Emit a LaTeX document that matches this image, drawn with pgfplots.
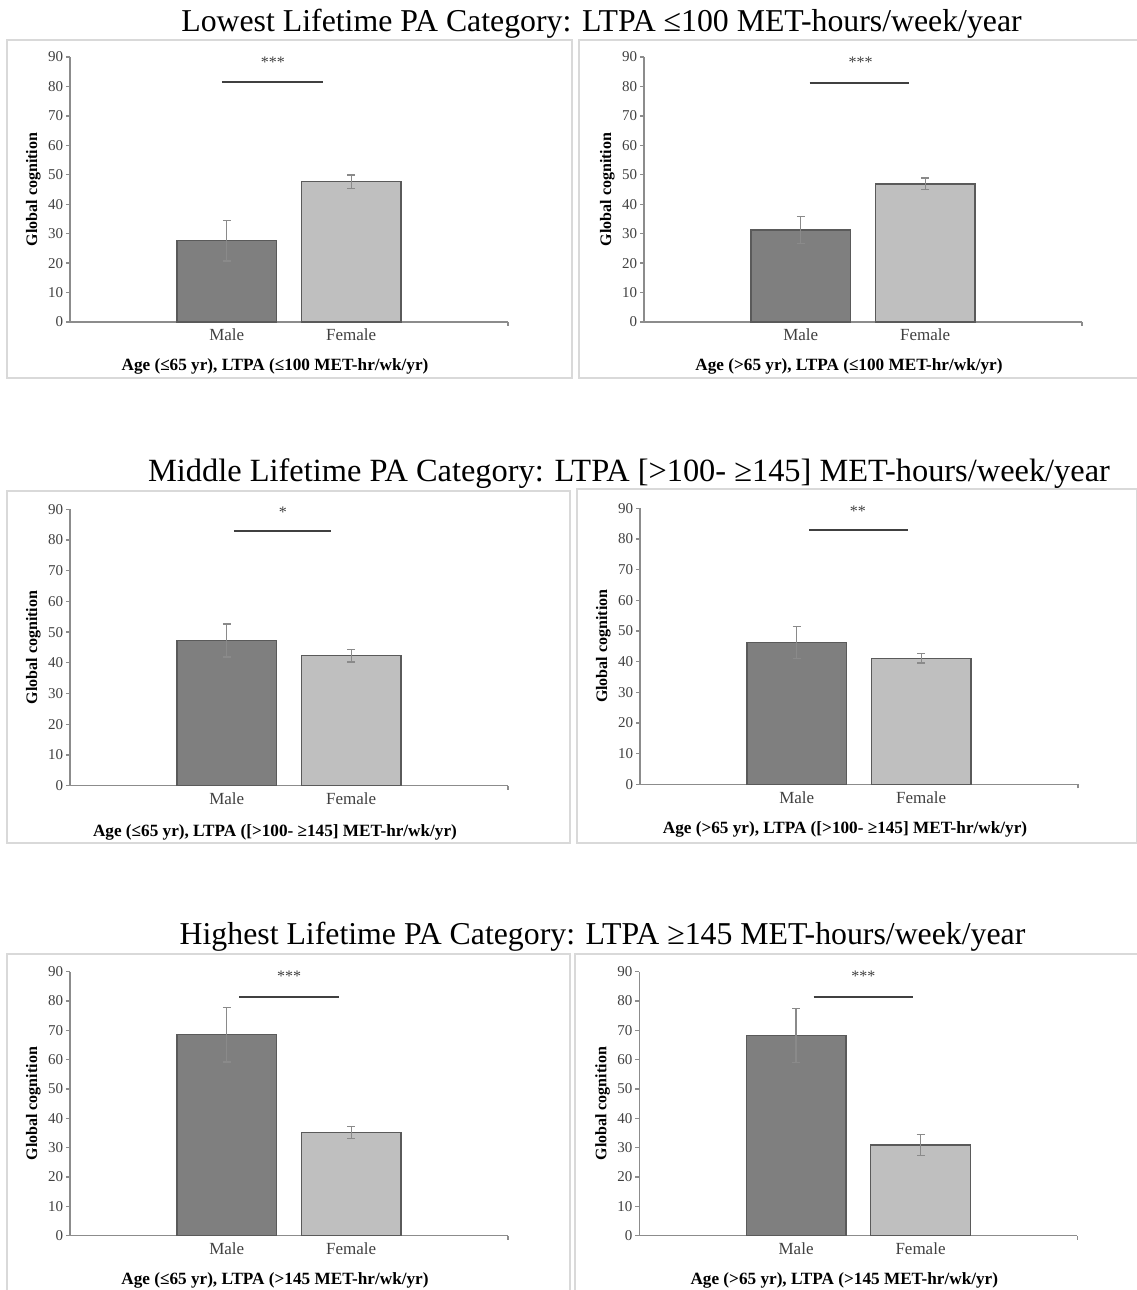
\documentclass[border=0pt]{standalone}
\usepackage{fontspec}
\setmainfont{Liberation Serif}
\usepackage{pgfplots}
\pgfplotsset{compat=1.18}

\definecolor{malefill}{HTML}{7F7F7F}
\definecolor{femalefill}{HTML}{BFBFBF}
\definecolor{baredge}{HTML}{5A5A5A}
\definecolor{errgray}{HTML}{8A8A8A}
\definecolor{axisgray}{HTML}{8C8C8C}
\definecolor{framegray}{HTML}{D9D9D9}
\definecolor{sigline}{HTML}{404040}
\definecolor{ticktext}{HTML}{404040}

\pgfplotsset{
  panel/.style={
    scale only axis, width=438bp,
    xmin=-1.26, xmax=2.26, ymin=0, ymax=90,
    axis lines=left, axis line style={-, draw=axisgray, line width=1.3bp},
    ytick={0,10,...,90}, xtick={0,1}, xticklabels={Male,Female},
    extra x ticks={2.26}, extra x tick labels={},
    extra x tick style={x tick style={draw=axisgray, line width=1.3bp}},
    tick align=outside, major tick length=4bp,
    y tick style={draw=axisgray, line width=1.3bp},
    x tick style={draw=none},
    /pgf/number format/assume math mode=true,
    yticklabel style={font=\fontsize{15bp}{17bp}\selectfont, text=ticktext, inner sep=0pt, anchor=east, xshift=-2.7bp},
    xticklabel style={font=\fontsize{17bp}{19bp}\selectfont, text=ticktext, inner sep=0pt, anchor=base, yshift=-15bp},
    ylabel={Global cognition},
    ylabel style={font=\fontsize{16bp}{18bp}\selectfont\bfseries, at={(axis description cs:-0.0753,0.5)}, anchor=base},
    xlabel style={font=\fontsize{17.2bp}{19bp}\selectfont\bfseries, at={(axis description cs:0.468,0)}, anchor=base, yshift=-49bp},
    clip=false,
  },
  malebar/.style={ybar, bar width=0.8, bar shift=0pt, fill=malefill, draw=baredge, line width=1.3bp,
    error bars/.cd, y dir=both, y explicit,
    error bar style={draw=errgray, line width=1.4bp},
    error mark options={draw=errgray, line width=1.4bp, mark size=4bp, rotate=90}},
  femalebar/.style={ybar, bar width=0.8, bar shift=0pt, fill=femalefill, draw=baredge, line width=1.3bp,
    error bars/.cd, y dir=both, y explicit,
    error bar style={draw=errgray, line width=1.4bp},
    error mark options={draw=errgray, line width=1.4bp, mark size=4bp, rotate=90}},
  sig/.style={draw=sigline, line width=2bp, mark=none},
}
\tikzset{
  stars/.style={font=\fontsize{16bp}{18bp}\selectfont, text=sigline, inner sep=0pt},
  sectitle/.style={anchor=base, inner sep=0pt, font=\fontsize{31.8bp}{36bp}\selectfont},
}

\begin{document}
\begin{tikzpicture}[x=1bp, y=1bp]
% chart area frames
\draw[framegray, line width=1.3bp] (7,1250) rectangle (572,912);
\draw[framegray, line width=1.3bp] (579,1250) rectangle (1145,912);
\draw[framegray, line width=1.3bp] (7,799) rectangle (570,447);
\draw[framegray, line width=1.3bp] (577,801) rectangle (1137,447);
\draw[framegray, line width=1.3bp] (7,336) rectangle (570,-20);
\draw[framegray, line width=1.3bp] (575,336) rectangle (1145,-20);

% section titles
\node[sectitle] at (601.5,1258.3)
  {Lowest Lifetime PA Category: LTPA ≤100 MET-hours/week/year};
\node[sectitle, font=\fontsize{32.4bp}{36bp}\selectfont] at (629,808.3)
  {Middle Lifetime PA Category: LTPA [>100- ≥145] MET-hours/week/year};
\node[sectitle] at (602.5,345)
  {Highest Lifetime PA Category: LTPA ≥145 MET-hours/week/year};

% ---- lowest LTPA, age <= 65
\begin{axis}[panel, height=265bp, at={(70bp,968bp)}, anchor=south west,
  xlabel={Age (≤65 yr), LTPA (≤100 MET-hr/wk/yr)}]
  \addplot[malebar] coordinates {(0,27.6) +- (0,6.9)};
  \addplot[femalebar] coordinates {(1,47.6) +- (0,2.3)};
  \addplot[sig] coordinates {(-0.04,81.6) (0.77,81.6)};
  \node[stars] at (axis cs:0.37,88.3) {***};
\end{axis}

% ---- lowest LTPA, age > 65
\begin{axis}[panel, height=265bp, at={(644bp,968bp)}, anchor=south west,
  xlabel={Age (>65 yr), LTPA (≤100 MET-hr/wk/yr)}]
  \addplot[malebar] coordinates {(0,31.2) +- (0,4.6)};
  \addplot[femalebar] coordinates {(1,46.9) +- (0,2.0)};
  \addplot[sig] coordinates {(0.07,81.3) (0.87,81.3)};
  \node[stars] at (axis cs:0.48,88.3) {***};
\end{axis}

% ---- middle LTPA, age <= 65
\begin{axis}[panel, height=276.4bp, at={(70bp,504.3bp)}, anchor=south west,
  xlabel={Age (≤65 yr), LTPA ([>100- ≥145] MET-hr/wk/yr)},
  xlabel style={yshift=-2bp}]
  \addplot[malebar] coordinates {(0,47.3) +- (0,5.4)};
  \addplot[femalebar] coordinates {(1,42.3) +- (0,2.0)};
  \addplot[sig] coordinates {(0.056,82.9) (0.84,82.9)};
  \node[stars] at (axis cs:0.45,89.0) {*};
\end{axis}

% ---- middle LTPA, age > 65
\begin{axis}[panel, height=276bp, at={(640bp,505.7bp)}, anchor=south west,
  xlabel={Age (>65 yr), LTPA ([>100- ≥145] MET-hr/wk/yr)}]
  \addplot[malebar] coordinates {(0,46.2) +- (0,5.2)};
  \addplot[femalebar] coordinates {(1,41.1) +- (0,1.5)};
  \addplot[sig] coordinates {(0.10,82.8) (0.89,82.8)};
  \node[stars] at (axis cs:0.49,89.0) {**};
\end{axis}

% ---- highest LTPA, age <= 65
\begin{axis}[panel, height=264bp, at={(70bp,54.3bp)}, anchor=south west,
  xlabel={Age (≤65 yr), LTPA (>145 MET-hr/wk/yr)}]
  \addplot[malebar] coordinates {(0,68.5) +- (0,9.3)};
  \addplot[femalebar] coordinates {(1,35.2) +- (0,2.1)};
  \addplot[sig] coordinates {(0.10,81.5) (0.90,81.5)};
  \node[stars] at (axis cs:0.50,88.5) {***};
\end{axis}

% ---- highest LTPA, age > 65
\begin{axis}[panel, height=264bp, at={(639.3bp,54.3bp)}, anchor=south west,
  xlabel={Age (>65 yr), LTPA (>145 MET-hr/wk/yr)}]
  \addplot[malebar] coordinates {(0,68.2) +- (0,9.2)};
  \addplot[femalebar] coordinates {(1,30.9) +- (0,3.6)};
  \addplot[sig] coordinates {(0.14,81.5) (0.94,81.5)};
  \node[stars] at (axis cs:0.54,88.5) {***};
\end{axis}

\pgfresetboundingbox
\useasboundingbox (0,0) rectangle (1137,1290);
\end{tikzpicture}
\end{document}
